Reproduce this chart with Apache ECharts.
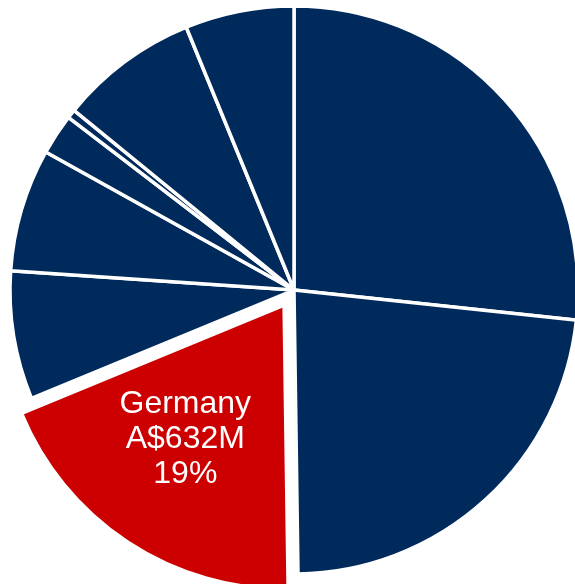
<!DOCTYPE html>
<html>
<head>
<meta charset="utf-8">
<script src="https://cdn.jsdelivr.net/npm/echarts@6/dist/echarts.min.js"></script>
<style>
  html, body { margin: 0; padding: 0; background: #ffffff; }
  #chart { width: 575px; height: 584px; }
</style>
</head>
<body>
<div id="chart"></div>
<script>
// slices clockwise from 12 o'clock, values in A$M
const names = ['Country 1', 'Country 2', 'Germany', 'Country 4', 'Country 5', 'Country 6', 'Country 7', 'Country 8', 'Country 9'];
const values = [888, 768, 632, 243, 233, 77, 17, 263, 206];
const highlight = 'Germany';

const total = values.reduce((s, v) => s + v, 0);

const chart = echarts.init(document.getElementById('chart'));
chart.setOption({
  animation: false,
  series: [
    {
      type: 'pie',
      center: [294, 290],
      radius: [0, 284],
      startAngle: 90,
      clockwise: true,
      selectedMode: 'single',
      selectedOffset: 18,
      avoidLabelOverlap: false,
      itemStyle: {
        color: '#002A5C',
        borderColor: '#ffffff',
        borderWidth: 3.5,
      },
      label: { show: false },
      labelLine: { show: false },
      emphasis: { disabled: true },
      labelLayout: { dx: -19, dy: 13 },
      data: names.map((name, i) => {
        const item = { name, value: values[i] };
        if (name === highlight) {
          item.selected = true;
          item.itemStyle = { color: '#CC0000' };
          item.label = {
            show: true,
            position: 'inside',
            color: '#ffffff',
            fontFamily: 'Liberation Sans, Arial, sans-serif',
            fontSize: 32,
            lineHeight: 35,
            align: 'center',
            formatter: (p) => `${p.name}\nA$${p.value}M\n${Math.round(p.value / total * 100)}%`,
          };
        }
        return item;
      }),
    },
  ],
});
</script>
</body>
</html>
